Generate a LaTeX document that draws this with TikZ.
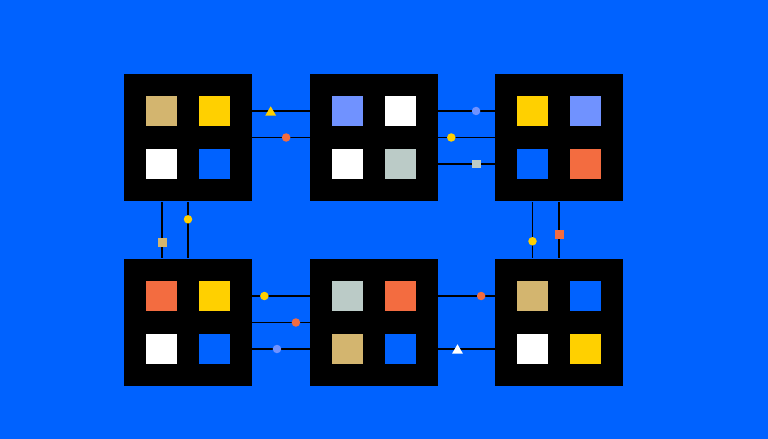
\documentclass[tikz,border=0pt]{standalone}
\usepackage{tikz}
\usetikzlibrary{calc,shapes.geometric}

\definecolor{bgblue}{HTML}{0062FF}
\definecolor{tan}{HTML}{D3B56F}
\definecolor{sun}{HTML}{FFD000}
\definecolor{lilac}{HTML}{7092FF}
\definecolor{sage}{HTML}{BBCBC7}
\definecolor{coral}{HTML}{F36C40}

\tikzset{
	panel/.style={fill=black, draw=none, inner sep=0, minimum size=2.56cm},
	cell/.style={draw=none, inner sep=0, minimum size=0.62cm},
	wire/.style={line width=0.8pt, color=black},
	dot/.style={circle, inner sep=0, minimum size=0.17cm, draw=none},
	chip/.style={rectangle, inner sep=0, minimum size=0.18cm, draw=none},
	tri/.style={regular polygon, regular polygon sides=3, inner sep=0, minimum size=0.25cm, draw=none, yshift=-0.03cm}
}

% name, centre, four cell colours (top left, top right, bottom left, bottom right)
\newcommand{\panel}[6]{%
	\node[panel] (#1) at (#2) {};
	\node[cell, fill=#3] (#1a) at ($(#1)+(-26.5,-26.5)$) {};
	\node[cell, fill=#4] (#1b) at ($(#1)+(26.5,-26.5)$) {};
	\node[cell, fill=#5] (#1c) at ($(#1)+(-26.5,26.5)$) {};
	\node[cell, fill=#6] (#1d) at ($(#1)+(26.5,26.5)$) {};
}

\begin{document}
\begin{tikzpicture}[x=0.02cm, y=-0.02cm]
			%%%%% START %%%%%
			
			\fill[bgblue] (0, 0) rectangle (768, 439);
			\useasboundingbox (0, 0) rectangle (768, 439);
			
			\panel{b1}{188, 137.5}{tan}{sun}{white}{bgblue}
			\panel{b2}{374, 137.5}{lilac}{white}{white}{sage}
			\panel{b3}{559, 137.5}{sun}{lilac}{bgblue}{coral}
			\panel{b4}{188, 322.5}{coral}{sun}{white}{bgblue}
			\panel{b5}{374, 322.5}{sage}{coral}{tan}{bgblue}
			\panel{b6}{559, 322.5}{tan}{bgblue}{white}{sun}
			
			% top row
			\draw[wire] ($(b1.east)+(0,-26.5)$) -- ($(b2.west)+(0,-26.5)$) node[tri, fill=sun, pos=0.32] (m1) {};
			\draw[wire] (b1.east) -- (b2.west) node[dot, fill=coral, pos=0.59] (m2) {};
			\draw[wire] ($(b2.east)+(0,-26.5)$) -- ($(b3.west)+(0,-26.5)$) node[dot, fill=lilac, pos=0.67] (m3) {};
			\draw[wire] (b2.east) -- (b3.west) node[dot, fill=sun, pos=0.23] (m4) {};
			\draw[wire] ($(b2.east)+(0,26.5)$) -- ($(b3.west)+(0,26.5)$) node[chip, fill=sage, pos=0.67] (m5) {};
			
			% columns
			\draw[wire] ($(b1.south)+(-26,0)$) -- ($(b4.north)+(-26,0)$) node[chip, fill=tan, pos=0.73] (m6) {};
			\draw[wire] (b1.south) -- (b4.north) node[dot, fill=sun, pos=0.31] (m7) {};
			\draw[wire] ($(b3.south)+(-26.5,0)$) -- ($(b6.north)+(-26.5,0)$) node[dot, fill=sun, pos=0.70] (m8) {};
			\draw[wire] (b3.south) -- (b6.north) node[chip, fill=coral, pos=0.58] (m9) {};
			
			% bottom row
			\draw[wire] ($(b4.east)+(0,-26.5)$) -- ($(b5.west)+(0,-26.5)$) node[dot, fill=sun, pos=0.21] (m10) {};
			\draw[wire] (b4.east) -- (b5.west) node[dot, fill=coral, pos=0.76] (m11) {};
			\draw[wire] ($(b4.east)+(0,26.5)$) -- ($(b5.west)+(0,26.5)$) node[dot, fill=lilac, pos=0.43] (m12) {};
			\draw[wire] ($(b5.east)+(0,-26.5)$) -- ($(b6.west)+(0,-26.5)$) node[dot, fill=coral, pos=0.76] (m13) {};
			\draw[wire] ($(b5.east)+(0,26.5)$) -- ($(b6.west)+(0,26.5)$) node[tri, fill=white, pos=0.34] (m14) {};
			
			%%%%% END %%%%%
		\end{tikzpicture}
\end{document}
